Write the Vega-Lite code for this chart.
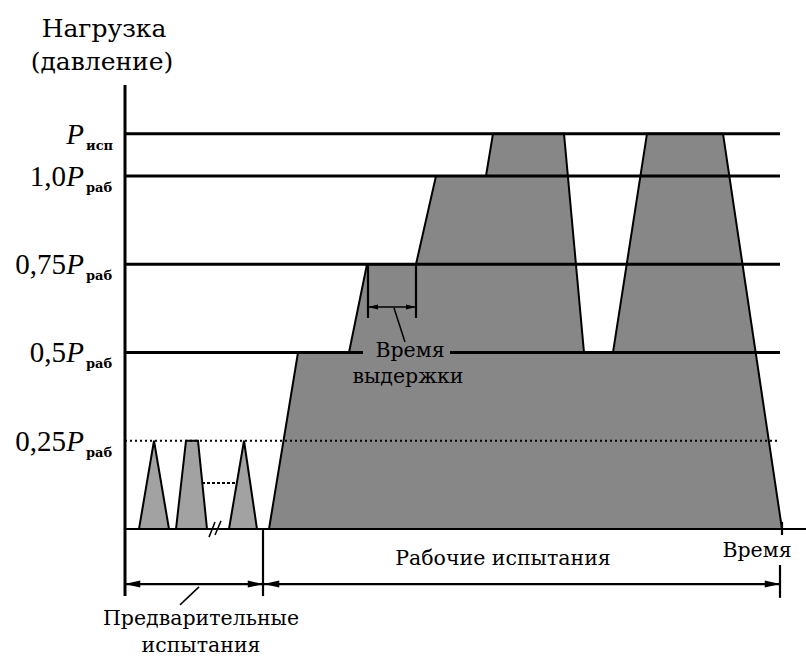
{
  "$schema": "https://vega.github.io/schema/vega-lite/v6.json",
  "width": 806,
  "height": 656,
  "autosize": "none",
  "padding": 0,
  "background": "white",
  "config": {"view": {"stroke": null}},
  "datasets": {
    "main": [
      {"t": 144, "p": 0}, {"t": 173, "p": 0.5}, {"t": 224, "p": 0.5}, {"t": 242, "p": 0.75},
      {"t": 291, "p": 0.75}, {"t": 311, "p": 1.0}, {"t": 361, "p": 1.0}, {"t": 368, "p": 1.12},
      {"t": 439, "p": 1.12}, {"t": 459, "p": 0.5}, {"t": 488, "p": 0.5}, {"t": 522, "p": 1.12},
      {"t": 598, "p": 1.12}, {"t": 657, "p": 0}
    ],
    "small": [
      {"shape": "A", "t": 14, "p": 0}, {"shape": "A", "t": 29, "p": 0.25}, {"shape": "A", "t": 44, "p": 0},
      {"shape": "B", "t": 51, "p": 0}, {"shape": "B", "t": 61, "p": 0.25}, {"shape": "B", "t": 73, "p": 0.25}, {"shape": "B", "t": 82, "p": 0},
      {"shape": "C", "t": 104, "p": 0}, {"shape": "C", "t": 119, "p": 0.25}, {"shape": "C", "t": 132, "p": 0}
    ],
    "segs": [
      {"kind": "axis", "x": 0, "x2": 0, "y": -0.19, "y2": 1.258},
      {"kind": "level", "x": 0, "x2": 655, "y": 1.12, "y2": 1.12},
      {"kind": "level", "x": 0, "x2": 655, "y": 1.0, "y2": 1.0},
      {"kind": "level", "x": 0, "x2": 655, "y": 0.75, "y2": 0.75},
      {"kind": "level", "x": 0, "x2": 238, "y": 0.5, "y2": 0.5},
      {"kind": "level", "x": 325, "x2": 655, "y": 0.5, "y2": 0.5},
      {"kind": "baseline", "x": 0, "x2": 681, "y": 0, "y2": 0},
      {"kind": "ref", "x": 0, "x2": 655, "y": 0.25, "y2": 0.25},
      {"kind": "aux", "x": 77, "x2": 112, "y": 0.13, "y2": 0.13},
      {"kind": "guide", "x": 0, "x2": 138, "y": -0.156, "y2": -0.156},
      {"kind": "guide", "x": 139, "x2": 655, "y": -0.156, "y2": -0.156},
      {"kind": "guide", "x": 138, "x2": 138, "y": 0, "y2": -0.19},
      {"kind": "guide", "x": 655, "x2": 655, "y": -0.102, "y2": -0.195},
      {"kind": "guide", "x": 657, "x2": 657, "y": 0.02, "y2": -0.017},
      {"kind": "guide", "x": 243, "x2": 243, "y": 0.75, "y2": 0.598},
      {"kind": "guide", "x": 291, "x2": 291, "y": 0.75, "y2": 0.598},
      {"kind": "leader", "x": 243, "x2": 291, "y": 0.629, "y2": 0.629},
      {"kind": "leader", "x": 269, "x2": 280, "y": 0.626, "y2": 0.53},
      {"kind": "leader", "x": 55, "x2": 74, "y": -0.215, "y2": -0.164},
      {"kind": "leader", "x": 84, "x2": 90, "y": -0.023, "y2": 0.02},
      {"kind": "leader", "x": 90, "x2": 96, "y": -0.017, "y2": 0.023}
    ],
    "heads": [
      {"group": "big", "dir": "left", "t": 7.5, "p": -0.156},
      {"group": "big", "dir": "right", "t": 130.5, "p": -0.156},
      {"group": "big", "dir": "left", "t": 146.5, "p": -0.156},
      {"group": "big", "dir": "right", "t": 647.5, "p": -0.156},
      {"group": "hold", "dir": "left", "t": 248, "p": 0.629},
      {"group": "hold", "dir": "right", "t": 286, "p": 0.629}
    ],
    "ticks": [
      {"p": 1.12, "num": "", "sub": "исп"},
      {"p": 1.0, "num": "1,0", "sub": "раб"},
      {"p": 0.75, "num": "0,75", "sub": "раб"},
      {"p": 0.5, "num": "0,5", "sub": "раб"},
      {"p": 0.25, "num": "0,25", "sub": "раб"}
    ],
    "texts": [
      {"role": "title", "label": "Нагрузка", "t": -21, "p": 1.394},
      {"role": "title", "label": "(давление)", "t": -23, "p": 1.3},
      {"role": "note", "label": "Время", "t": 632, "p": -0.079},
      {"role": "note", "label": "Рабочие испытания", "t": 378, "p": -0.102},
      {"role": "note", "label": "Предварительные", "t": 76, "p": -0.272},
      {"role": "note", "label": "испытания", "t": 76, "p": -0.348},
      {"role": "note", "label": "Время", "t": 285, "p": 0.487},
      {"role": "note", "label": "выдержки", "t": 283, "p": 0.414}
    ]
  },
  "encoding": {
    "x": {"type": "quantitative", "scale": {"domain": [-125, 681], "nice": false, "zero": false}, "axis": null},
    "y": {"type": "quantitative", "scale": {"domain": [-0.3598, 1.4986], "nice": false, "zero": false}, "axis": null}
  },
  "layer": [
    {
      "data": {"name": "main"},
      "mark": {"type": "area", "fill": "#878787", "stroke": "black", "strokeWidth": 2, "strokeJoin": "miter"},
      "encoding": {
        "x": {"field": "t", "type": "quantitative"},
        "y": {"field": "p", "type": "quantitative", "stack": null},
        "y2": {"datum": 0}
      }
    },
    {
      "data": {"name": "small"},
      "mark": {"type": "area", "fill": "#a2a2a2", "stroke": "black", "strokeWidth": 2, "strokeJoin": "miter"},
      "encoding": {
        "x": {"field": "t", "type": "quantitative"},
        "y": {"field": "p", "type": "quantitative", "stack": null},
        "y2": {"datum": 0},
        "detail": {"field": "shape"}
      }
    },
    {
      "data": {"name": "segs"},
      "transform": [{"filter": "datum.kind === 'level' || datum.kind === 'axis'"}],
      "mark": {"type": "rule", "color": "black", "strokeWidth": 3},
      "encoding": {
        "x": {"field": "x", "type": "quantitative"}, "x2": {"field": "x2"},
        "y": {"field": "y", "type": "quantitative"}, "y2": {"field": "y2"}
      }
    },
    {
      "data": {"name": "segs"},
      "transform": [{"filter": "datum.kind === 'baseline' || datum.kind === 'guide'"}],
      "mark": {"type": "rule", "color": "black", "strokeWidth": 2.2},
      "encoding": {
        "x": {"field": "x", "type": "quantitative"}, "x2": {"field": "x2"},
        "y": {"field": "y", "type": "quantitative"}, "y2": {"field": "y2"}
      }
    },
    {
      "data": {"name": "segs"},
      "transform": [{"filter": "datum.kind === 'leader'"}],
      "mark": {"type": "rule", "color": "black", "strokeWidth": 1.5},
      "encoding": {
        "x": {"field": "x", "type": "quantitative"}, "x2": {"field": "x2"},
        "y": {"field": "y", "type": "quantitative"}, "y2": {"field": "y2"}
      }
    },
    {
      "data": {"name": "segs"},
      "transform": [{"filter": "datum.kind === 'ref'"}],
      "mark": {"type": "rule", "color": "black", "strokeWidth": 2, "strokeDash": [2, 3]},
      "encoding": {
        "x": {"field": "x", "type": "quantitative"}, "x2": {"field": "x2"},
        "y": {"field": "y", "type": "quantitative"}, "y2": {"field": "y2"}
      }
    },
    {
      "data": {"name": "segs"},
      "transform": [{"filter": "datum.kind === 'aux'"}],
      "mark": {"type": "rule", "color": "black", "strokeWidth": 2, "strokeDash": [3, 2]},
      "encoding": {
        "x": {"field": "x", "type": "quantitative"}, "x2": {"field": "x2"},
        "y": {"field": "y", "type": "quantitative"}, "y2": {"field": "y2"}
      }
    },
    {
      "data": {"name": "heads"},
      "transform": [{"filter": "datum.group === 'big' && datum.dir === 'left'"}],
      "mark": {"type": "point", "shape": "M -1 0 L 1 -0.45 L 1 0.45 Z", "filled": true, "color": "black", "opacity": 1, "size": 240},
      "encoding": {"x": {"field": "t", "type": "quantitative"}, "y": {"field": "p", "type": "quantitative"}}
    },
    {
      "data": {"name": "heads"},
      "transform": [{"filter": "datum.group === 'big' && datum.dir === 'right'"}],
      "mark": {"type": "point", "shape": "M 1 0 L -1 -0.45 L -1 0.45 Z", "filled": true, "color": "black", "opacity": 1, "size": 240},
      "encoding": {"x": {"field": "t", "type": "quantitative"}, "y": {"field": "p", "type": "quantitative"}}
    },
    {
      "data": {"name": "heads"},
      "transform": [{"filter": "datum.group === 'hold' && datum.dir === 'left'"}],
      "mark": {"type": "point", "shape": "M -1 0 L 1 -0.5 L 1 0.5 Z", "filled": true, "color": "black", "opacity": 1, "size": 100},
      "encoding": {"x": {"field": "t", "type": "quantitative"}, "y": {"field": "p", "type": "quantitative"}}
    },
    {
      "data": {"name": "heads"},
      "transform": [{"filter": "datum.group === 'hold' && datum.dir === 'right'"}],
      "mark": {"type": "point", "shape": "M 1 0 L -1 -0.5 L -1 0.5 Z", "filled": true, "color": "black", "opacity": 1, "size": 100},
      "encoding": {"x": {"field": "t", "type": "quantitative"}, "y": {"field": "p", "type": "quantitative"}}
    },
    {
      "data": {"name": "ticks"},
      "mark": {"type": "text", "font": "Liberation Serif", "fontSize": 29, "fontStyle": "italic", "align": "right", "baseline": "alphabetic", "dy": 10, "color": "black"},
      "encoding": {"x": {"datum": -41}, "y": {"field": "p", "type": "quantitative"}, "text": {"value": "P"}}
    },
    {
      "data": {"name": "ticks"},
      "mark": {"type": "text", "font": "Liberation Serif", "fontSize": 29, "align": "right", "baseline": "alphabetic", "dx": -18, "dy": 10, "color": "black"},
      "encoding": {"x": {"datum": -41}, "y": {"field": "p", "type": "quantitative"}, "text": {"field": "num"}}
    },
    {
      "data": {"name": "ticks"},
      "mark": {"type": "text", "font": "DejaVu Serif", "fontSize": 13, "fontWeight": "bold", "align": "left", "baseline": "alphabetic", "dy": 16, "color": "black"},
      "encoding": {"x": {"datum": -39}, "y": {"field": "p", "type": "quantitative"}, "text": {"field": "sub"}}
    },
    {
      "data": {"name": "texts"},
      "transform": [{"filter": "datum.role === 'title'"}],
      "mark": {"type": "text", "font": "DejaVu Serif", "fontSize": 25, "align": "center", "baseline": "alphabetic", "color": "black"},
      "encoding": {"x": {"field": "t", "type": "quantitative"}, "y": {"field": "p", "type": "quantitative"}, "text": {"field": "label"}}
    },
    {
      "data": {"name": "texts"},
      "transform": [{"filter": "datum.role === 'note'"}],
      "mark": {"type": "text", "font": "DejaVu Serif", "fontSize": 20.5, "align": "center", "baseline": "alphabetic", "color": "black"},
      "encoding": {"x": {"field": "t", "type": "quantitative"}, "y": {"field": "p", "type": "quantitative"}, "text": {"field": "label"}}
    }
  ]
}
